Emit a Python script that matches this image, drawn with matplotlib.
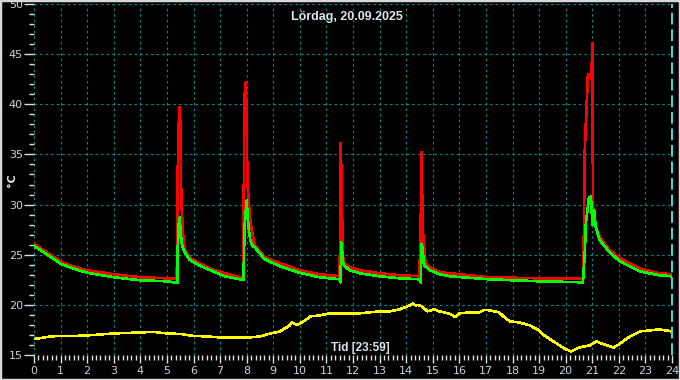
import matplotlib
matplotlib.use("Agg")
import numpy as np
import matplotlib.pyplot as plt
from matplotlib.ticker import MultipleLocator
import matplotlib.patches as mpatches

# sensor 1 (red)
red_t = [0.0, 0.5, 1.0, 1.5, 2.0, 3.0, 4.0, 5.0, 5.37,
         5.39, 5.42, 5.45, 5.48, 5.51, 5.54, 5.58, 5.62, 5.68, 5.86, 6.24, 6.73, 7.18, 7.74, 7.88,
         7.90, 7.93, 7.97, 8.00, 8.03, 8.08, 8.14, 8.22, 8.30, 8.68, 9.25, 10.0, 10.75, 11.50,
         11.53, 11.56, 11.60, 11.63, 11.67, 11.88, 12.26, 13.0, 13.76, 14.50,
         14.55, 14.58, 14.62, 14.66, 14.70, 14.74, 14.90, 15.26, 15.64, 17.1, 19.0, 20.65,
         20.68, 20.71, 20.75, 20.79, 20.83, 20.87, 20.92, 20.97, 21.00, 21.03, 21.10, 21.18,
         21.28, 21.65, 22.03, 22.78, 23.53, 24.0]
red_v = [26.1, 25.2, 24.3, 23.8, 23.45, 23.05, 22.75, 22.65, 22.6,
         30.0, 35.7, 38.3, 39.7, 37.7, 30.7, 28.3, 26.5, 25.4, 24.7, 24.1, 23.5, 23.15, 22.75, 22.7,
         36.6, 41.1, 42.2, 38.0, 32.2, 30.1, 28.3, 27.0, 25.95, 24.75, 24.15, 23.45, 23.05, 22.85,
         36.1, 33.6, 27.4, 24.75, 24.1, 23.75, 23.45, 23.15, 22.95, 22.85,
         28.7, 35.2, 27.6, 26.4, 24.75, 24.1, 23.75, 23.25, 23.15, 22.75, 22.65, 22.65,
         25.95, 34.7, 37.6, 39.9, 42.7, 43.0, 42.9, 42.5, 46.1, 29.7, 28.1, 27.45,
         26.75, 25.45, 24.65, 23.65, 23.15, 23.05]

# sensor 2 (green)
green_t = [0.0, 0.5, 1.0, 1.5, 2.0, 3.0, 4.0, 5.0, 5.39,
           5.41, 5.45, 5.48, 5.52, 5.56, 5.62, 5.68, 5.86, 6.24, 6.73, 7.18, 7.74, 7.88,
           7.92, 7.96, 8.00, 8.03, 8.07, 8.14, 8.22, 8.30, 8.68, 9.25, 10.0, 10.75, 11.50,
           11.53, 11.56, 11.60, 11.63, 11.67, 11.88, 12.26, 13.0, 13.76, 14.50,
           14.55, 14.58, 14.62, 14.66, 14.70, 14.90, 15.26, 15.64, 17.1, 19.0, 20.65,
           20.72, 20.76, 20.82, 20.88, 20.92, 20.95, 20.98, 21.02, 21.07, 21.13,
           21.28, 21.65, 22.03, 22.78, 23.53, 24.0]
green_v = [25.9, 25.0, 24.1, 23.6, 23.2, 22.75, 22.45, 22.35, 22.2,
           25.9, 28.2, 28.7, 27.1, 26.1, 25.5, 25.2, 24.5, 23.9, 23.35, 22.85, 22.55, 22.5,
           27.7, 29.1, 30.4, 29.1, 27.7, 26.4, 25.9, 25.75, 24.55, 23.85, 23.2, 22.75, 22.55,
           22.25, 26.2, 25.1, 24.2, 23.9, 23.45, 23.15, 22.85, 22.65, 22.55,
           22.25, 26.1, 25.65, 24.2, 23.9, 23.45, 23.05, 22.85, 22.55, 22.35, 22.25,
           25.25, 28.15, 29.45, 30.75, 30.4, 30.8, 29.2, 27.95, 29.45, 27.75,
           26.45, 25.25, 24.35, 23.35, 22.95, 22.85]

# outdoor (yellow)
yel_t = [0.0, 0.3, 0.6, 1.0, 1.5, 2.0, 2.5, 3.0, 3.5, 4.0, 4.5, 5.0, 5.5, 6.0, 6.5, 7.0, 7.5,
         8.1, 8.5, 8.9, 9.25, 9.4, 9.6, 9.7, 9.9, 10.2, 10.4, 10.75, 11.1, 11.5, 11.9, 12.25,
         12.6, 13.0, 13.4, 13.75, 13.95, 14.15, 14.25, 14.35, 14.45, 14.6, 14.8, 15.05, 15.25,
         15.6, 15.85, 16.0, 16.4, 16.75, 16.95, 17.15, 17.5, 17.7, 17.9, 18.25, 18.65, 19.0,
         19.2, 19.6, 19.95, 20.2, 20.5, 20.9, 21.15, 21.45, 21.8, 22.0, 22.3, 22.5, 22.8,
         23.15, 23.5, 23.9, 24.0]
yel_v = [16.6, 16.7, 16.85, 16.9, 16.9, 16.95, 17.05, 17.15, 17.2, 17.25, 17.3, 17.15, 17.1,
         16.9, 16.85, 16.75, 16.75, 16.75, 16.85, 17.15, 17.35, 17.6, 17.9, 18.25, 18.0, 18.45,
         18.85, 18.95, 19.15, 19.15, 19.15, 19.15, 19.25, 19.35, 19.35, 19.55, 19.75, 19.95,
         20.15, 19.95, 20.0, 19.85, 19.35, 19.55, 19.35, 19.15, 18.8, 19.15, 19.25, 19.25,
         19.5, 19.45, 19.25, 18.75, 18.35, 18.25, 17.95, 17.45, 16.95, 16.25, 15.65, 15.35,
         15.75, 15.95, 16.35, 16.05, 15.75, 16.05, 16.65, 16.95, 17.35, 17.45, 17.55, 17.4,
         17.3]

x_ticks = list(range(0, 25))
y_ticks = [15, 20, 25, 30, 35, 40, 45, 50]
title = "Lördag, 20.09.2025"
x_label = "Tid [23:59]"
y_label = "°C"
cursor_t = 24.0

txt = '#c8d4e0'
lab_font = ['Liberation Sans', 'DejaVu Sans']
fig = plt.figure(figsize=(6.8, 3.8), dpi=100, facecolor='black')
ax = fig.add_axes([34/680, 1-355/380, 638/680, 351/380])
ax.set_facecolor('black')
ax.set_xlim(0, 24)
ax.set_ylim(15, 50)

for s in ax.spines.values():
    s.set_visible(False)

ax.grid(True, which='major', color='#008c8c', ls=(0, (2.2, 2.8)), lw=0.8)
ax.set_axisbelow(True)

ax.set_xticks(x_ticks)
ax.set_yticks(y_ticks)
ax.xaxis.set_minor_locator(MultipleLocator(1/6))
ax.yaxis.set_minor_locator(MultipleLocator(1))
ax.tick_params(which='major', colors='#e0e0e0', labelcolor=txt, labelsize=8, width=1.0, length=6, pad=2)
ax.tick_params(axis='y', which='major', length=7, pad=1)
ax.tick_params(which='minor', colors='#e0e0e0', width=1.0, length=3.5)

ax.plot(red_t, red_v, color='#ff0000', lw=1.2, antialiased=False)
ax.plot(green_t, green_v, color='#00ff00', lw=1.2, antialiased=False)
ax.plot(yel_t, yel_v, color='#ffff00', lw=1.1, antialiased=False)

ax.axvline(cursor_t, color='#40e0e0', lw=1.4, ls=(0, (6, 2.5)), clip_on=False)

fig.text(347/680, 1-17/380, title, color='#dde4ea', fontsize=9, fontweight='bold',
         family=lab_font, ha='center', va='center')
fig.text(360/680, 1-348/380, x_label, color='#dde4ea', fontsize=8.5, fontweight='bold',
         family=lab_font, ha='center', va='center')
fig.text(12/680, 1-180/380, y_label, color='#dde4ea', fontsize=8, fontweight='bold',
         ha='center', va='center', rotation=90)

fig.patches.append(mpatches.Rectangle((0, 0), 1, 1, transform=fig.transFigure, fill=False,
                                      ec='#d8d8d8', lw=2.5))

plt.savefig('out.png', dpi=100, facecolor='black')
